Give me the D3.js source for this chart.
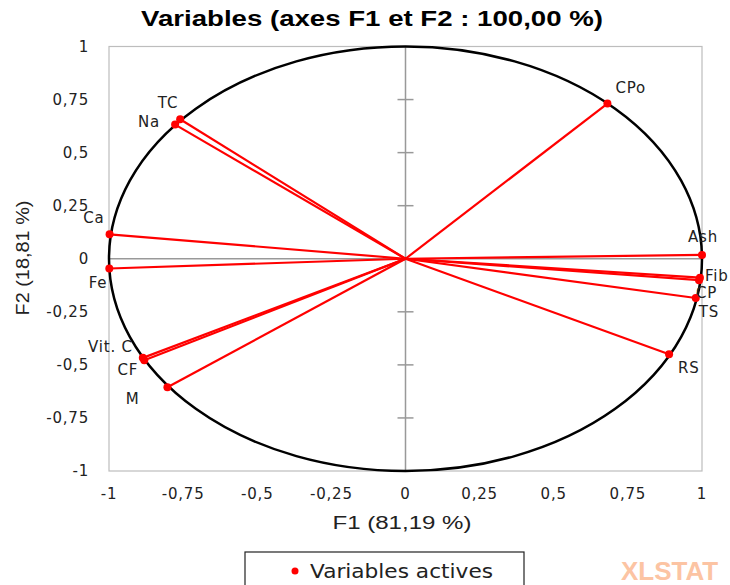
<!DOCTYPE html>
<html>
<head>
<meta charset="utf-8">
<script src="https://cdn.jsdelivr.net/npm/d3@7"></script>
<style>
  html, body { margin: 0; padding: 0; background: #fff; }
  svg { display: block; }
</style>
</head>
<body>
<svg id="chart" width="730" height="585"></svg>
<script>
// Variable names and their loadings on F1 / F2.
var variables = ['CPo', 'TC', 'Na', 'Ca', 'Fe', 'Ash', 'Fib', 'CP', 'TS', 'RS', 'Vit. C', 'CF', 'M'];
var f1 = [0.681, -0.760, -0.777, -0.998, -0.999, 1.000, 0.993, 0.990, 0.979, 0.889, -0.886, -0.881, -0.803];
var f2 = [0.731, 0.657, 0.632, 0.115, -0.046, 0.018, -0.089, -0.101, -0.185, -0.450, -0.467, -0.478, -0.605];
var tickValues = [-1, -0.75, -0.5, -0.25, 0, 0.25, 0.5, 0.75, 1];

// Label offsets relative to each point: [dx, dy, anchor].
var labelPos = {
  'CPo': [8, -16, 'start'],
  'TC': [-2, -17, 'end'],
  'Na': [-15, -3, 'end'],
  'Ca': [-5, -17, 'end'],
  'Fe': [-2, 14, 'end'],
  'Ash': [1, -18, 'middle'],
  'Fib': [5, -2, 'start'],
  'CP': [-3, 13, 'start'],
  'TS': [3, 14, 'start'],
  'RS': [9, 13, 'start'],
  'Vit. C': [-10, -11, 'end'],
  'CF': [-6, 10, 'end'],
  'M': [-28, 12, 'end']
};

var svg = d3.select('#chart');
var x = d3.scaleLinear().domain([-1, 1]).range([109, 702]);
var y = d3.scaleLinear().domain([-1, 1]).range([471, 46.5]);

var locale = d3.formatLocale({decimal: ',', thousands: ' ', grouping: [3],
                              currency: ['', ''], minus: '-'});
var fmt = locale.format('.2~f');

// Title.
svg.append('text')
    .attr('x', 372).attr('y', 26)
    .attr('text-anchor', 'middle')
    .attr('textLength', 462)
    .attr('lengthAdjust', 'spacingAndGlyphs')
    .style('font', 'bold 22px "Liberation Sans", Arial, sans-serif')
    .text('Variables (axes F1 et F2 : 100,00 %)');

// Plot frame.
svg.append('rect')
    .attr('x', x(-1)).attr('y', y(1))
    .attr('width', x(1) - x(-1)).attr('height', y(-1) - y(1))
    .attr('fill', 'none').attr('stroke', '#bdbdbd').attr('stroke-width', 1.2);

// Axes through the origin.
svg.append('line')
    .attr('x1', x(-1)).attr('x2', x(1))
    .attr('y1', y(0)).attr('y2', y(0))
    .attr('stroke', '#999').attr('stroke-width', 1.5);
svg.append('line')
    .attr('x1', x(0)).attr('x2', x(0))
    .attr('y1', y(1)).attr('y2', y(-1))
    .attr('stroke', '#999').attr('stroke-width', 1.5);
svg.selectAll('.vtick')
    .data(tickValues.filter(function(d) { return d !== 0 && Math.abs(d) !== 1; }))
    .enter().append('line')
    .attr('x1', x(0) - 8).attr('x2', x(0) + 8)
    .attr('y1', function(d) { return y(d); })
    .attr('y2', function(d) { return y(d); })
    .attr('stroke', '#999').attr('stroke-width', 1.5);

// Tick labels.
var tickFont = '15px "DejaVu Sans", Verdana, sans-serif';
svg.selectAll('.ylab').data(tickValues).enter().append('text')
    .attr('x', 89).attr('y', function(d) { return y(d); })
    .attr('dy', '0.35em')
    .attr('text-anchor', 'end')
    .style('font', tickFont).style('letter-spacing', '0.8px')
    .attr('fill', '#222')
    .text(fmt);
svg.selectAll('.xlab').data(tickValues).enter().append('text')
    .attr('x', function(d) { return x(d); }).attr('y', 494)
    .attr('dy', '0.35em')
    .attr('text-anchor', 'middle')
    .style('font', tickFont).style('letter-spacing', '0.8px')
    .attr('fill', '#222')
    .text(fmt);

// Axis titles.
svg.append('text')
    .attr('x', 402).attr('y', 523).attr('dy', '0.35em')
    .attr('text-anchor', 'middle')
    .attr('textLength', 139).attr('lengthAdjust', 'spacingAndGlyphs')
    .style('font', '18px "Liberation Sans", Arial, sans-serif')
    .attr('fill', '#222')
    .text('F1 (81,19 %)');
svg.append('text')
    .attr('transform', 'translate(23,258) rotate(-90)')
    .attr('dy', '0.35em')
    .attr('text-anchor', 'middle')
    .attr('textLength', 115).attr('lengthAdjust', 'spacingAndGlyphs')
    .style('font', '18px "Liberation Sans", Arial, sans-serif')
    .attr('fill', '#222')
    .text('F2 (18,81 %)');

// Correlation circle.
svg.append('ellipse')
    .attr('cx', x(0)).attr('cy', y(0))
    .attr('rx', x(1) - x(0)).attr('ry', y(0) - y(1))
    .attr('fill', 'none').attr('stroke', '#000').attr('stroke-width', 2.5);

// Vectors, points and labels.
var data = variables.map(function(name, i) {
  return {name: name, f1: f1[i], f2: f2[i]};
});

svg.selectAll('.vec').data(data).enter().append('line')
    .attr('x1', x(0)).attr('y1', y(0))
    .attr('x2', function(d) { return x(d.f1); })
    .attr('y2', function(d) { return y(d.f2); })
    .attr('stroke', '#f00').attr('stroke-width', 2.2);

svg.selectAll('.pt').data(data).enter().append('circle')
    .attr('cx', function(d) { return x(d.f1); })
    .attr('cy', function(d) { return y(d.f2); })
    .attr('r', 4)
    .attr('fill', '#f00');

svg.selectAll('.lbl').data(data).enter().append('text')
    .attr('x', function(d) { return x(d.f1) + labelPos[d.name][0]; })
    .attr('y', function(d) { return y(d.f2) + labelPos[d.name][1]; })
    .attr('dy', '0.35em')
    .attr('text-anchor', function(d) { return labelPos[d.name][2]; })
    .style('font', '15px "DejaVu Sans", Verdana, sans-serif')
    .style('letter-spacing', '0.8px')
    .attr('fill', '#222')
    .text(function(d) { return d.name; });

// Legend.
svg.append('rect')
    .attr('x', 245).attr('y', 552)
    .attr('width', 279).attr('height', 40)
    .attr('fill', '#fff').attr('stroke', '#222').attr('stroke-width', 1.2);
svg.append('circle')
    .attr('cx', 295).attr('cy', 571).attr('r', 3.5)
    .attr('fill', '#f00');
svg.append('text')
    .attr('x', 310).attr('y', 571).attr('dy', '0.35em')
    .attr('textLength', 183).attr('lengthAdjust', 'spacingAndGlyphs')
    .style('font', '20px "DejaVu Sans", Verdana, sans-serif')
    .attr('fill', '#222')
    .text('Variables actives');

// Watermark.
svg.append('text')
    .attr('x', 621).attr('y', 580)
    .style('font', 'bold 26px "Liberation Sans", Arial, sans-serif')
    .attr('fill', '#fcc4a3')
    .text('XLSTAT');
</script>
</body>
</html>
